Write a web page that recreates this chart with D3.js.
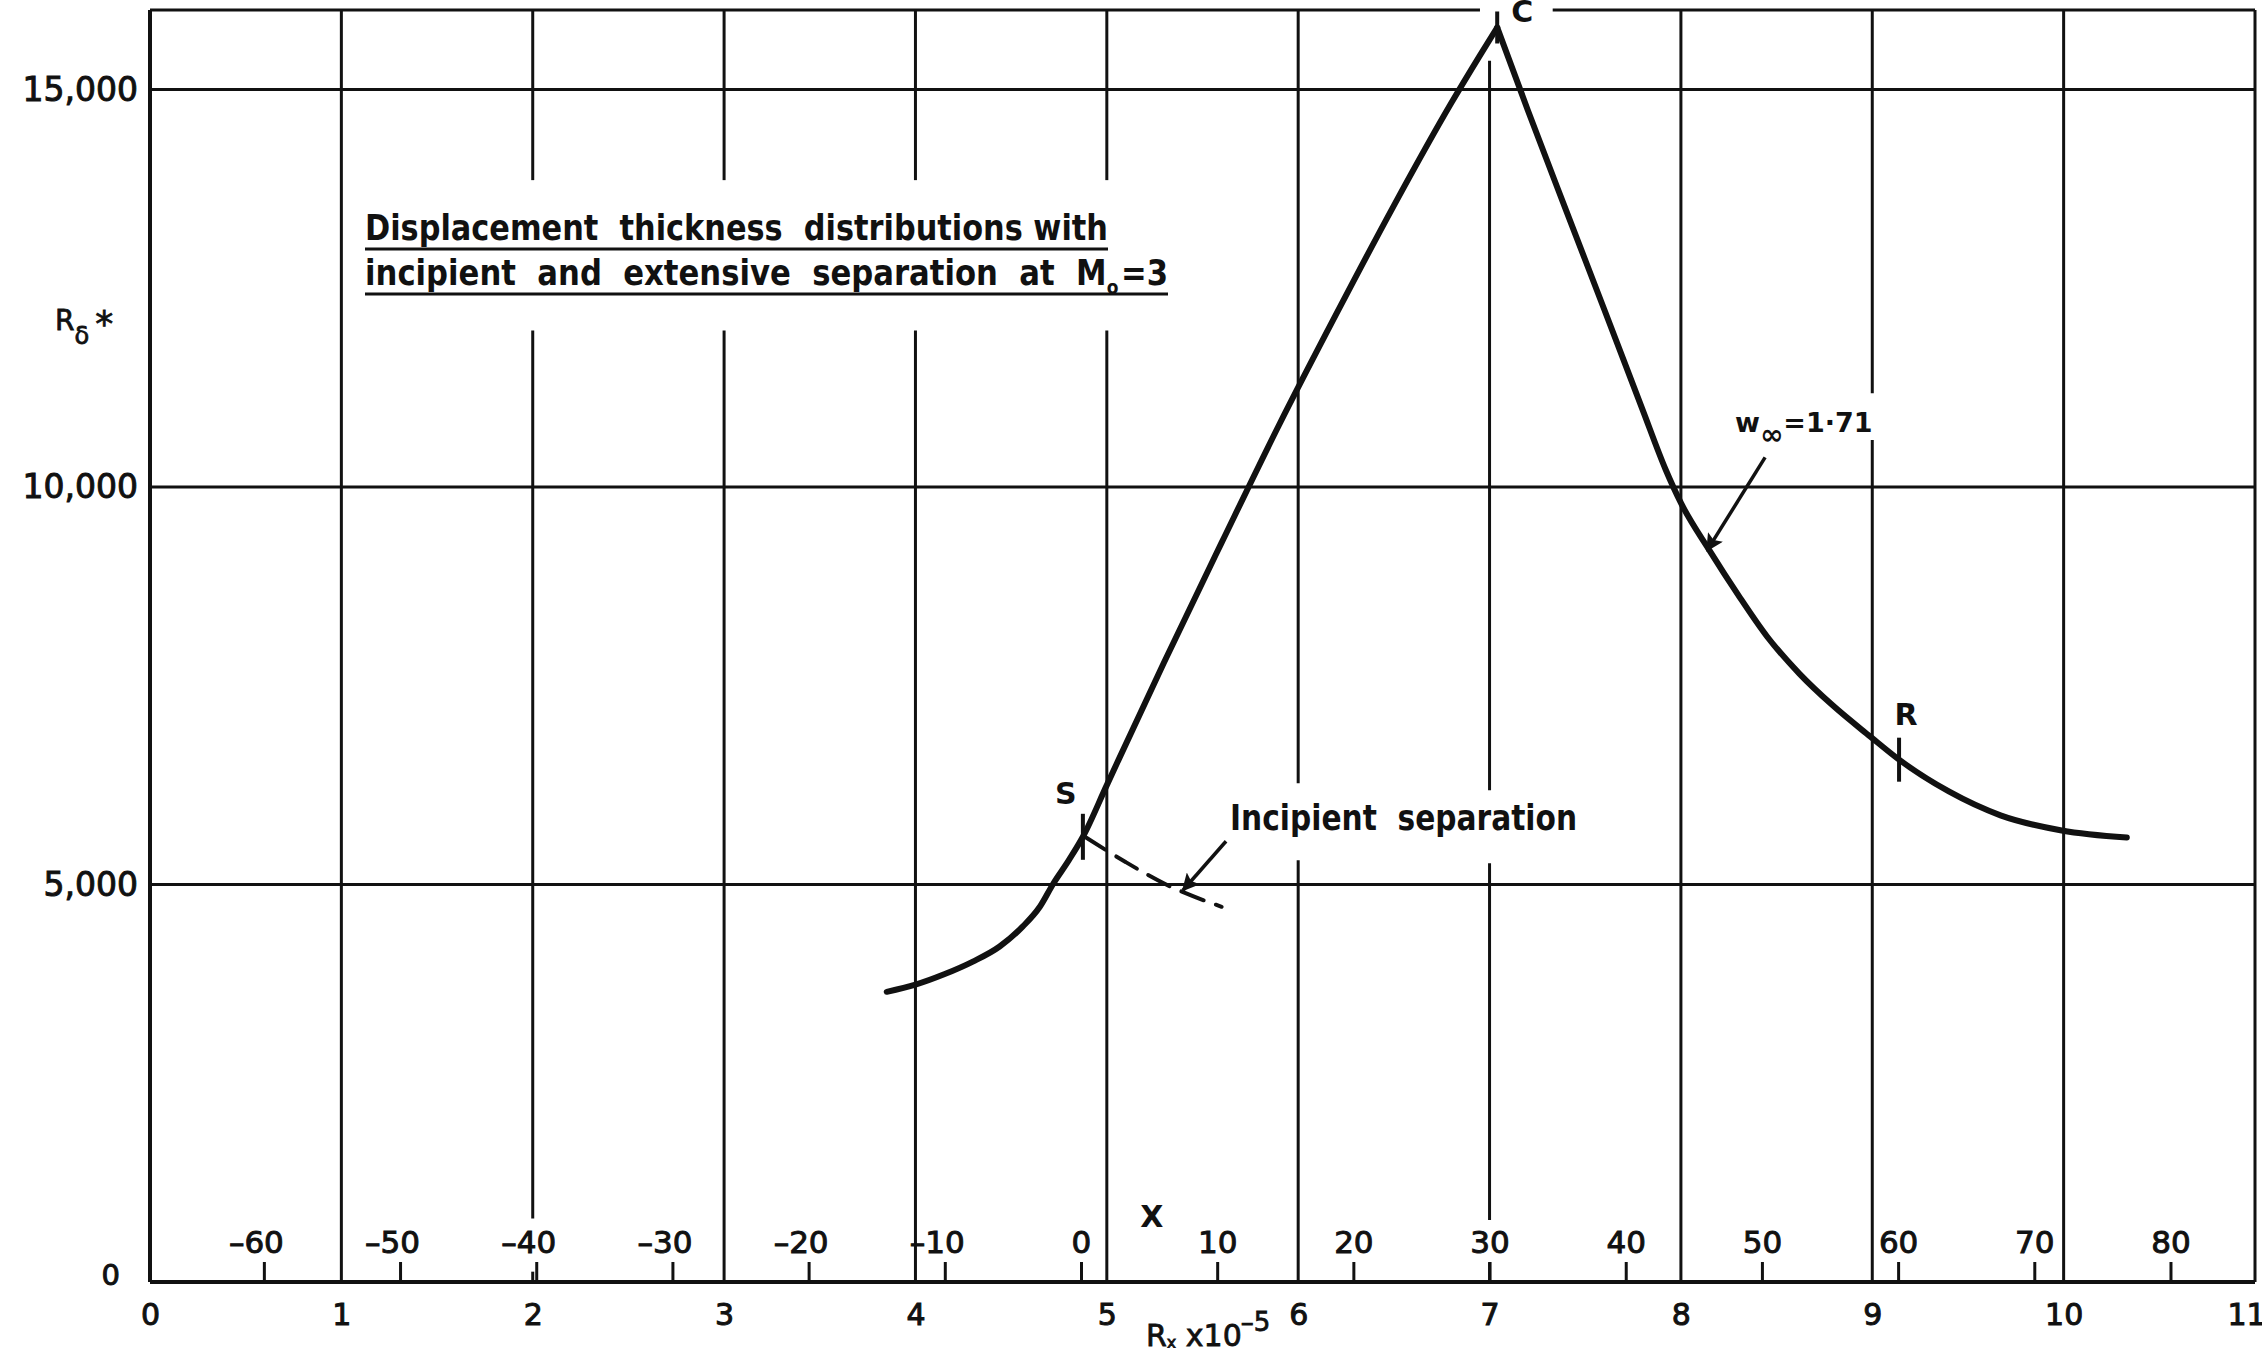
<!DOCTYPE html>
<html>
<head>
<meta charset="utf-8">
<script src="https://cdn.jsdelivr.net/npm/d3@7"></script>
<style>
  html, body { margin: 0; padding: 0; background: #fff; }
  svg text { font-family: "DejaVu Sans", sans-serif; fill: #111; white-space: pre; }
</style>
</head>
<body>
<div id="chart"></div>
<script>
// R_x x 10^-5 (bottom scale) and R_delta* (left scale)
var reynoldsTicks = [0, 1, 2, 3, 4, 5, 6, 7, 8, 9, 10, 11];
var deltaTicks = [0, 5000, 10000, 15000];
var deltaTickLabels = ["0", "5,000", "10,000", "15,000"];
// X scale printed above the bottom axis
var xTicks = [-60, -50, -40, -30, -20, -10, 0, 10, 20, 30, 40, 50, 60, 70, 80];

// extensive separation, w_inf = 1.71
var curveR = [3.85, 4.00, 4.15, 4.30, 4.44, 4.56, 4.65, 4.72, 4.80, 4.875, 5.00, 5.30, 5.60,
  5.90, 6.20, 6.50, 6.80, 6.95, 7.04, 7.20, 7.40, 7.60, 7.80, 7.92, 8.00, 8.15, 8.30, 8.45,
  8.62, 8.79, 8.99, 9.14, 9.40, 9.67, 9.99, 10.33];
var curveDelta = [3650, 3740, 3870, 4030, 4220, 4470, 4720, 5010, 5300, 5600, 6250, 7800, 9300,
  10780, 12180, 13540, 14830, 15430, 15780, 14740, 13480, 12230, 10970, 10220, 9800, 9200, 8640, 8120,
  7650, 7260, 6860, 6570, 6170, 5870, 5680, 5590];

// incipient separation (dashed)
var incipientR = [4.885, 5.10, 5.31, 5.60];
var incipientDelta = [5600, 5280, 5000, 4720];

// points S, C, R marked on the curve
var markNames = ["S", "C", "R"];
var markR = [4.875, 7.04, 9.14];
var markDelta = [5600, 15780, 6570];

var width = 2262, height = 1348;
var ink = "#111";

var x = d3.scaleLinear().domain([0, 11]).range([150, 2255]);
var y = d3.scaleLinear().domain([0, 16000]).range([1282, 10]);
// X = 0 sits at R = 4.865, X = 30 at R = 7.0
var xs = d3.scaleLinear().domain([0, 30]).range([x(4.865), x(7.0)]);

var svg = d3.select("#chart").append("svg").attr("width", width).attr("height", height)
  .style("background", "#fff");

svg.append("defs").append("marker").attr("id", "arrow").attr("viewBox", "0 0 10 10")
  .attr("refX", 9).attr("refY", 5).attr("markerWidth", 9).attr("markerHeight", 5)
  .attr("markerUnits", "strokeWidth").attr("orient", "auto")
  .append("path").attr("d", "M0,0 L10,5 L0,10 L2,5 Z").attr("fill", ink);

// vertical grid lines, broken where the lettering sits
var gaps = {
  2: [[130, 800], [11970, 13860]],
  3: [[11970, 13860]],
  4: [[11970, 13860]],
  5: [[11970, 13860]],
  6: [[5305, 6274]],
  7: [[250, 780], [5268, 6186], [15363, 16000]],
  9: [[10590, 11180]]
};
function segments(r) {
  var segs = [], start = 0;
  (gaps[r] || []).slice().sort(function(a, b) { return a[0] - b[0]; }).forEach(function(g) {
    segs.push([start, g[0]]);
    start = g[1];
  });
  if (start < 16000) segs.push([start, 16000]);
  return segs.map(function(s) { return { r: r, a: s[0], b: s[1] }; });
}
var vSegs = [];
reynoldsTicks.slice(1, 11).forEach(function(r) { vSegs = vSegs.concat(segments(r)); });

var grid = svg.append("g").attr("stroke", ink).attr("stroke-width", 3);
grid.selectAll("line.v").data(vSegs).enter().append("line").attr("class", "v")
  .attr("x1", function(d) { return x(d.r); }).attr("x2", function(d) { return x(d.r); })
  .attr("y1", function(d) { return y(d.a); }).attr("y2", function(d) { return y(d.b); });
grid.selectAll("line.h").data(deltaTicks.slice(1)).enter().append("line").attr("class", "h")
  .attr("x1", x(0)).attr("x2", x(11))
  .attr("y1", function(d) { return y(d); }).attr("y2", function(d) { return y(d); });

// frame: left + bottom axis heavier, top broken at C
var frame = svg.append("g").attr("stroke", ink).attr("fill", "none");
frame.append("line").attr("x1", x(0)).attr("x2", x(0)).attr("y1", y(16000)).attr("y2", y(0))
  .attr("stroke-width", 4);
frame.append("line").attr("x1", x(0)).attr("x2", x(11)).attr("y1", y(0)).attr("y2", y(0))
  .attr("stroke-width", 4);
frame.append("line").attr("x1", x(11)).attr("x2", x(11)).attr("y1", y(16000)).attr("y2", y(0))
  .attr("stroke-width", 3);
frame.append("line").attr("x1", x(0)).attr("x2", x(6.95)).attr("y1", y(16000)).attr("y2", y(16000))
  .attr("stroke-width", 3);
frame.append("line").attr("x1", x(7.33)).attr("x2", x(11)).attr("y1", y(16000)).attr("y2", y(16000))
  .attr("stroke-width", 3);

function letter(sel, size) {
  sel.attr("font-size", size).attr("fill", ink).attr("stroke", ink).attr("stroke-width", 1)
    .style("font-family", "'DejaVu Sans', sans-serif");
}

// bottom R labels
var bottomAxis = svg.append("g").attr("transform", "translate(0," + y(0) + ")")
  .call(d3.axisBottom(x).tickValues(reynoldsTicks).tickSize(0).tickPadding(22).tickFormat(d3.format("d")));
bottomAxis.select(".domain").remove();
letter(bottomAxis.selectAll("text"), 30);
bottomAxis.selectAll(".tick").filter(function(d) { return d === 11; }).select("text").attr("dx", -9);

// X scale, ticks pointing up from the axis
var xAxis = svg.append("g").attr("transform", "translate(0," + y(0) + ")")
  .call(d3.axisTop(xs).tickValues(xTicks).tickSize(20).tickPadding(9).tickFormat(function(d) {
    return d < 0 ? "\u2013" + Math.abs(d) : d;
  }));
xAxis.select(".domain").remove();
xAxis.selectAll("line").attr("stroke", ink).attr("stroke-width", 3);
letter(xAxis.selectAll("text"), 31);
xAxis.selectAll("text").attr("dx", function(d) { return d < 0 ? -8 : 0; });

// left labels
var leftAxis = svg.append("g").attr("transform", "translate(" + x(0) + ",0)")
  .call(d3.axisLeft(y).tickValues(deltaTicks).tickSize(0).tickPadding(12)
    .tickFormat(function(d, i) { return deltaTickLabels[i]; }));
leftAxis.select(".domain").remove();
letter(leftAxis.selectAll("text"), 33);
leftAxis.selectAll(".tick").filter(function(d) { return d === 0; }).select("text")
  .attr("font-size", 29).attr("dx", -18).attr("dy", "0.1em");

// axis titles
var yTitle = svg.append("text").attr("x", 55).attr("y", 330).attr("font-size", 28)
  .attr("stroke", ink).attr("stroke-width", 0.8);
yTitle.append("tspan").text("R");
yTitle.append("tspan").attr("font-size", 24).attr("dy", 14).text("\u03b4");
yTitle.append("tspan").attr("font-size", 36).attr("dy", -8).attr("dx", 6).text("*");

var xTitle = svg.append("text").attr("x", 1146).attr("y", 1346).attr("font-size", 30)
  .attr("stroke", ink).attr("stroke-width", 0.8);
xTitle.append("tspan").text("R");
xTitle.append("tspan").attr("font-size", 16).attr("dy", 2).text("x");
xTitle.append("tspan").attr("dy", -2).text(" x10");
xTitle.append("tspan").attr("font-size", 26).attr("dy", -15).attr("dx", -1).text("\u20135");

svg.append("text").attr("x", xs(5.2)).attr("y", y(0) - 55).attr("text-anchor", "middle")
  .attr("font-size", 30).attr("font-weight", "bold").text("X");

// title, underlined
var title = svg.append("g");
title.append("text").attr("x", 365).attr("y", 240).attr("font-size", 36).attr("font-weight", "bold")
  .attr("textLength", 743).attr("lengthAdjust", "spacingAndGlyphs")
  .text("Displacement  thickness  distributions with");
var t2 = title.append("text").attr("x", 365).attr("y", 285).attr("font-size", 36).attr("font-weight", "bold")
  .attr("textLength", 803).attr("lengthAdjust", "spacingAndGlyphs");
t2.append("tspan").text("incipient  and  extensive  separation  at  M");
t2.append("tspan").attr("font-size", 20).attr("dy", 9).text("o");
t2.append("tspan").attr("dy", -9).attr("dx", 3).text("=3");
title.append("line").attr("x1", 365).attr("x2", 1108).attr("y1", 249).attr("y2", 249)
  .attr("stroke", ink).attr("stroke-width", 3);
title.append("line").attr("x1", 365).attr("x2", 1168).attr("y1", 294).attr("y2", 294)
  .attr("stroke", ink).attr("stroke-width", 3);

// the curve, drawn as two branches so the peak at C stays a sharp cusp
var line = d3.line().x(function(d) { return x(d[0]); }).y(function(d) { return y(d[1]); })
  .curve(d3.curveMonotoneX);
var pts = d3.zip(curveR, curveDelta);
var peak = d3.maxIndex(curveDelta);
[pts.slice(0, peak + 1), pts.slice(peak)].forEach(function(branch) {
  svg.append("path").datum(branch).attr("d", line)
    .attr("fill", "none").attr("stroke", ink).attr("stroke-width", 6)
    .attr("stroke-linecap", "round").attr("stroke-linejoin", "round");
});
svg.append("path").datum(d3.zip(incipientR, incipientDelta)).attr("d", line)
  .attr("fill", "none").attr("stroke", ink).attr("stroke-width", 4)
  .attr("stroke-dasharray", "24,13").attr("stroke-linecap", "round");

// S, C, R marks and their letters
var markLen = [23, 16, 22];
var labelOffset = [[-17, -43], [25, -16], [7, -45]];
markNames.forEach(function(name, i) {
  svg.append("line").attr("x1", x(markR[i])).attr("x2", x(markR[i]))
    .attr("y1", y(markDelta[i]) - markLen[i]).attr("y2", y(markDelta[i]) + markLen[i])
    .attr("stroke", ink).attr("stroke-width", 4);
  svg.append("text").attr("x", x(markR[i]) + labelOffset[i][0]).attr("y", y(markDelta[i]) + labelOffset[i][1])
    .attr("text-anchor", "middle").attr("dominant-baseline", "central")
    .attr("font-size", 30).attr("font-weight", "bold").text(name);
});

// annotations with arrows
svg.append("text").attr("x", x(5.644)).attr("y", y(5846)).attr("dominant-baseline", "central")
  .attr("font-size", 36).attr("font-weight", "bold")
  .attr("textLength", 347).attr("lengthAdjust", "spacingAndGlyphs").text("Incipient  separation");
svg.append("line").attr("x1", x(5.623)).attr("y1", y(5544)).attr("x2", x(5.398)).attr("y2", y(4928))
  .attr("stroke", ink).attr("stroke-width", 3.5).attr("marker-end", "url(#arrow)");

var wl = svg.append("text").attr("x", x(8.283)).attr("y", y(10690)).attr("font-size", 27)
  .attr("font-weight", "bold");
wl.append("tspan").text("w");
wl.append("tspan").attr("font-size", 28).attr("dy", 12).text("\u221e");
wl.append("tspan").attr("dy", -12).text("=1\u00b771");
svg.append("line").attr("x1", x(8.44)).attr("y1", y(10372)).attr("x2", x(8.137)).attr("y2", y(9203))
  .attr("stroke", ink).attr("stroke-width", 3.5).attr("marker-end", "url(#arrow)");
</script>
</body>
</html>
